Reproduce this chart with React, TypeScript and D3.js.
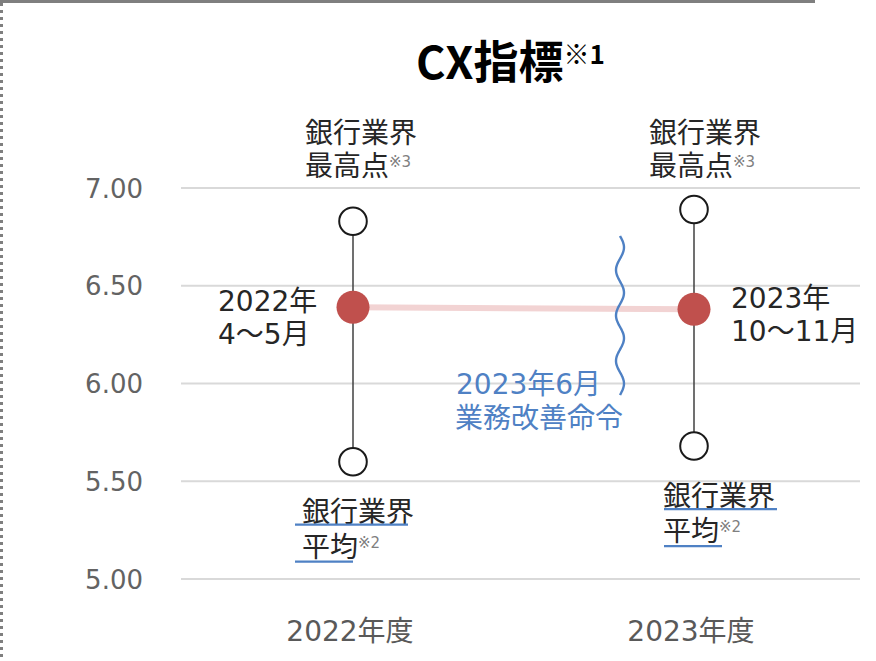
import React from "react";
import * as d3 from "d3";

const periods = ["2022年度", "2023年度"];
const highValues = [6.83, 6.89];
const cxValues = [6.39, 6.38];
const avgValues = [5.6, 5.68];
const yTicks = [5.0, 5.5, 6.0, 6.5, 7.0];
const pointLabels = [["2022年", "4〜5月"], ["2023年", "10〜11月"]];

const W = 876, H = 661;
const FONT = "'DejaVu Sans', 'Noto Sans CJK JP', sans-serif";
const TITLE_FONT = "'Noto Sans CJK JP', 'Noto Sans', sans-serif";

export default function App() {
  const y = d3.scaleLinear().domain([5, 7]).range([579, 188]);
  const x = d3.scalePoint<string>().domain(periods).range([353, 694]);
  const line = d3.line<number>().x((_, i) => x(periods[i])!).y((d) => y(d));

  // wavy decorative line
  const waveTop = 236, waveBot = 395, waveX = 620;
  const wavePts: [number, number][] = d3.range(0, 141).map((i) => {
    const t = i / 140;
    const yy = waveTop + t * (waveBot - waveTop);
    return [waveX + 4 * Math.sin(t * Math.PI * 2 * 3.5), yy];
  });
  const wave = d3.line().curve(d3.curveBasis)(wavePts) || "";

  const labelColor = "#262626";
  const blue = "#4f81c4";
  const fs = 28;

  return (
    <svg width={W} height={H} style={{ position: "absolute", left: 0, top: 0, background: "#fff" }}>
      <line x1={0} y1={1.5} x2={815} y2={1.5} stroke="#7f7f7f" strokeWidth={3} />
      <line x1={1.5} y1={3} x2={1.5} y2={H} stroke="#7f7f7f" strokeWidth={3} strokeDasharray="3 4" />

      <text x={416} y={79} fontFamily={TITLE_FONT} fontWeight={700} fontSize={45} fill="#000">
        CX指標<tspan fontSize={26} dy={-15}>※1</tspan>
      </text>

      {yTicks.map((t) => (
        <g key={t}>
          <line x1={181} x2={860} y1={y(t)} y2={y(t)} stroke="#d9d9d9" strokeWidth={2} />
          <text x={143} y={y(t) + 9.5} textAnchor="end" fontFamily={FONT} fontSize={26} fill="#636363">
            {t.toFixed(2)}
          </text>
        </g>
      ))}

      {periods.map((p) => (
        <text key={p} x={x(p)! - 3} y={641} textAnchor="middle" fontFamily={FONT} fontSize={fs} fill="#595959">
          {p}
        </text>
      ))}

      <path d={line(cxValues) || ""} fill="none" stroke="#f2d3d3" strokeWidth={6} />
      <path d={wave} fill="none" stroke={blue} strokeWidth={2.4} />

      {periods.map((p, i) => (
        <g key={p}>
          <line x1={x(p)} x2={x(p)} y1={y(highValues[i])} y2={y(avgValues[i])} stroke="#404040" strokeWidth={1.5} />
          <circle cx={x(p)} cy={y(highValues[i])} r={13.8} fill="#fff" stroke="#1a1a1a" strokeWidth={2} />
          <circle cx={x(p)} cy={y(avgValues[i])} r={13.8} fill="#fff" stroke="#1a1a1a" strokeWidth={2} />
          <circle cx={x(p)} cy={y(cxValues[i])} r={16.5} fill="#c0504d" />
        </g>
      ))}

      {/* top labels */}
      {periods.map((p, i) => {
        const lx = i === 0 ? 305 : 649;
        return (
          <g key={"top" + p} fontFamily={FONT} fontSize={fs} fill={labelColor}>
            <text x={lx} y={143}>銀行業界</text>
            <text x={lx} y={176}>
              最高点<tspan fontSize={15} fill="#808080" dy={-9}>※3</tspan>
            </text>
          </g>
        );
      })}

      {/* point labels */}
      <g fontFamily={FONT} fontSize={fs} fill={labelColor}>
        <text x={218} y={y(cxValues[0]) + 4}>{pointLabels[0][0]}</text>
        <text x={218} y={y(cxValues[0]) + 37}>{pointLabels[0][1]}</text>
        <text x={731} y={y(cxValues[1]) - 1}>{pointLabels[1][0]}</text>
        <text x={731} y={y(cxValues[1]) + 32}>{pointLabels[1][1]}</text>
      </g>

      {/* bottom labels */}
      {periods.map((p, i) => {
        const lx = i === 0 ? 302 : 663;
        const ty = y(avgValues[i]) + 60;
        const ux = i === 0 ? 295 : 664;
        return (
          <g key={"bot" + p} fontFamily={FONT} fontSize={fs} fill={labelColor}>
            <text x={lx} y={ty}>銀行業界</text>
            <line x1={ux} x2={ux + 113} y1={ty + 3} y2={ty + 3} stroke={blue} strokeWidth={2.2} />
            <text x={lx} y={ty + 35}>
              平均<tspan fontSize={15} fill="#808080" dy={-9}>※2</tspan>
            </text>
            <line x1={ux} x2={ux + 58} y1={ty + 40} y2={ty + 40} stroke={blue} strokeWidth={2.2} />
          </g>
        );
      })}

      {/* annotation */}
      <g fontFamily={FONT} fontSize={fs} fill={blue}>
        <text x={456} y={394}>2023年6月</text>
        <text x={455} y={428}>業務改善命令</text>
      </g>
    </svg>
  );
}
